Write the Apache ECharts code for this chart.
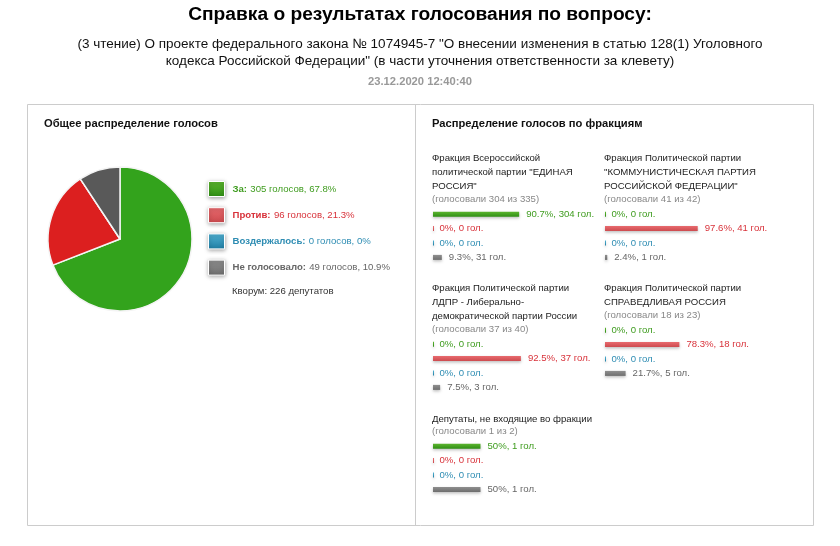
<!DOCTYPE html>
<html>
<head>
<meta charset="utf-8" />
<style>
  html, body, #main { margin: 0; padding: 0; background: #fff; }
  #main { width: 840px; height: 546px; }
</style>
</head>
<body>
<div id="main"></div>
<script src="https://cdn.jsdelivr.net/npm/echarts@6/dist/echarts.min.js"></script>
<script>
const voteNames = ['За', 'Против', 'Воздержалось', 'Не голосовало'];
const voteCounts = [305, 96, 0, 49];
const votePercents = ['67.8', '21.3', '0', '10.9'];
// the slices in the picture do not quite follow the printed numbers, so these are read off the pie
const pieShares = [69.1, 21.6, 0, 9.3];

const factionNames = [
  'Фракция Всероссийской\nполитической партии "ЕДИНАЯ\nРОССИЯ"',
  'Фракция Политической партии\n"КОММУНИСТИЧЕСКАЯ ПАРТИЯ\nРОССИЙСКОЙ ФЕДЕРАЦИИ"',
  'Фракция Политической партии\nЛДПР - Либерально-\nдемократической партии России',
  'Фракция Политической партии\nСПРАВЕДЛИВАЯ РОССИЯ',
  'Депутаты, не входящие во фракции'
];
const factionVoted = [
  '(голосовали 304 из 335)',
  '(голосовали 41 из 42)',
  '(голосовали 37 из 40)',
  '(голосовали 18 из 23)',
  '(голосовали 1 из 2)'
];
const factionPercents = [
  [90.7, 0, 0, 9.3],
  [0, 97.6, 0, 2.4],
  [0, 92.5, 0, 7.5],
  [0, 78.3, 0, 21.7],
  [50, 0, 0, 50]
];
const factionVotes = [
  [304, 0, 0, 31],
  [0, 41, 0, 1],
  [0, 37, 0, 3],
  [0, 18, 0, 5],
  [1, 0, 0, 1]
];

// layout of the faction blocks: x, y of the name, y of the "голосовали" line, y of the first bar row
const blocks = [
  { x: 432, top: 151, voted: 194, rows: 207 },
  { x: 604, top: 151, voted: 194, rows: 207 },
  { x: 432, top: 281, voted: 324, rows: 337 },
  { x: 604, top: 281, voted: 310, rows: 323 },
  { x: 432, top: 412, voted: 426, rows: 439 }
];

const font = '"Liberation Sans", Arial, sans-serif';
const textColors = ['#3f9c1f', '#d8323a', '#2f8db3', '#666666'];
const pieColors = ['#33a31c', '#dc1f1f', '#2a8db5', '#595959'];
const grads = [
  ['#5cb52f', '#2f8f14'],
  ['#e86a6e', '#cc4a4e'],
  ['#50b0d2', '#1f7fa5'],
  ['#8f8f8f', '#6e6e6e']
];

function grad(i) {
  return new echarts.graphic.LinearGradient(0, 0, 0, 1, [
    { offset: 0, color: grads[i][0] },
    { offset: 1, color: grads[i][1] }
  ]);
}

const chart = echarts.init(document.getElementById('main'));

const titles = [
  { text: 'Справка о результатах голосования по вопросу:', left: 420, top: 5, padding: 0, textAlign: 'center',
    textStyle: { fontFamily: font, fontSize: 19.2, fontWeight: 'bold', color: '#000' } },
  { text: '(3 чтение) О проекте федерального закона № 1074945-7 "О внесении изменения в статью 128(1) Уголовного\nкодекса Российской Федерации" (в части уточнения ответственности за клевету)',
    left: 420, top: 36, padding: 0, textAlign: 'center',
    textStyle: { fontFamily: font, fontSize: 13.5, fontWeight: 'normal', color: '#111', lineHeight: 17, align: 'center' } },
  { text: '23.12.2020 12:40:40', left: 420, top: 76, padding: 0, textAlign: 'center',
    textStyle: { fontFamily: font, fontSize: 11.2, fontWeight: 'bold', color: '#999' } },
  { text: 'Общее распределение голосов', left: 44, top: 118, padding: 0,
    textStyle: { fontFamily: font, fontSize: 11.2, fontWeight: 'bold', color: '#111' } },
  { text: 'Распределение голосов по фракциям', left: 432, top: 118, padding: 0,
    textStyle: { fontFamily: font, fontSize: 11.2, fontWeight: 'bold', color: '#111' } },
  { text: 'Кворум: ' + 226 + ' депутатов', left: 232, top: 286, padding: 0,
    textStyle: { fontFamily: font, fontSize: 9.6, fontWeight: 'normal', color: '#333' } }
];

const grids = [], xAxes = [], yAxes = [];
const series = [{
  type: 'pie',
  center: [120, 239],
  radius: [0, 72],
  startAngle: 90,
  silent: true,
  label: { show: false },
  labelLine: { show: false },
  itemStyle: { borderColor: '#f4f4f4', borderWidth: 1.5 },
  data: voteNames.map((n, i) => ({ name: n, value: pieShares[i], itemStyle: { color: pieColors[i] } }))
}];

factionNames.forEach((name, f) => {
  const b = blocks[f];
  titles.push({ text: name, left: b.x, top: b.top, padding: 0,
    textStyle: { fontFamily: font, fontSize: 9.6, fontWeight: 'normal', color: '#222', lineHeight: 14 } });
  titles.push({ text: factionVoted[f], left: b.x, top: b.voted, padding: 0,
    textStyle: { fontFamily: font, fontSize: 9.6, fontWeight: 'normal', color: '#888' } });
  grids.push({ left: b.x + 1, top: b.rows, width: 95, height: 57.6 });
  xAxes.push({ gridIndex: f, type: 'value', min: 0, max: 100, show: false });
  yAxes.push({ gridIndex: f, type: 'category', inverse: true, show: false, data: voteNames });
  series.push({
    type: 'bar',
    xAxisIndex: f,
    yAxisIndex: f,
    barWidth: 5,
    barMinHeight: 1,
    silent: true,
    data: factionPercents[f].map((v, i) => ({
      value: v,
      itemStyle: { color: grad(i), shadowColor: 'rgba(0,0,0,0.25)', shadowBlur: 3, shadowOffsetY: 1.5 },
      label: {
        show: true,
        position: 'right',
        distance: v === 0 ? 5.5 : 7,
        fontFamily: font,
        fontSize: 9.6,
        color: textColors[i],
        formatter: v + '%, ' + factionVotes[f][i] + ' гол.'
      }
    }))
  });
});

chart.setOption({
  animation: false,
  backgroundColor: '#fff',
  title: titles,
  grid: grids,
  xAxis: xAxes,
  yAxis: yAxes,
  legend: {
    orient: 'vertical',
    left: 208,
    top: 181,
    padding: 0,
    itemWidth: 16,
    itemHeight: 15,
    itemGap: 10.2,
    selectedMode: false,
    data: voteNames.map((n, i) => ({
      name: n,
      icon: 'rect',
      itemStyle: { color: grad(i), borderColor: '#fff', borderWidth: 1, shadowColor: 'rgba(0,0,0,0.35)', shadowBlur: 4, shadowOffsetY: 1 },
      textStyle: {
        rich: {
          b: { fontFamily: font, fontSize: 9.6, fontWeight: 'bold', color: textColors[i], padding: [0, 0, 0, 3] },
          t: { fontFamily: font, fontSize: 9.6, color: textColors[i] }
        }
      }
    })),
    formatter: function (n) {
      const i = voteNames.indexOf(n);
      return '{b|' + n + ':} {t|' + voteCounts[i] + ' голосов, ' + votePercents[i] + '%}';
    }
  },
  graphic: [
    { type: 'rect', z: -1, shape: { x: 27.5, y: 104.5, width: 786, height: 421 },
      style: { fill: 'none', stroke: '#ccc', lineWidth: 1 } },
    { type: 'line', z: -1, shape: { x1: 415.5, y1: 104.5, x2: 415.5, y2: 525.5 },
      style: { stroke: '#ccc', lineWidth: 1 } }
  ],
  series: series
});
</script>
</body>
</html>
